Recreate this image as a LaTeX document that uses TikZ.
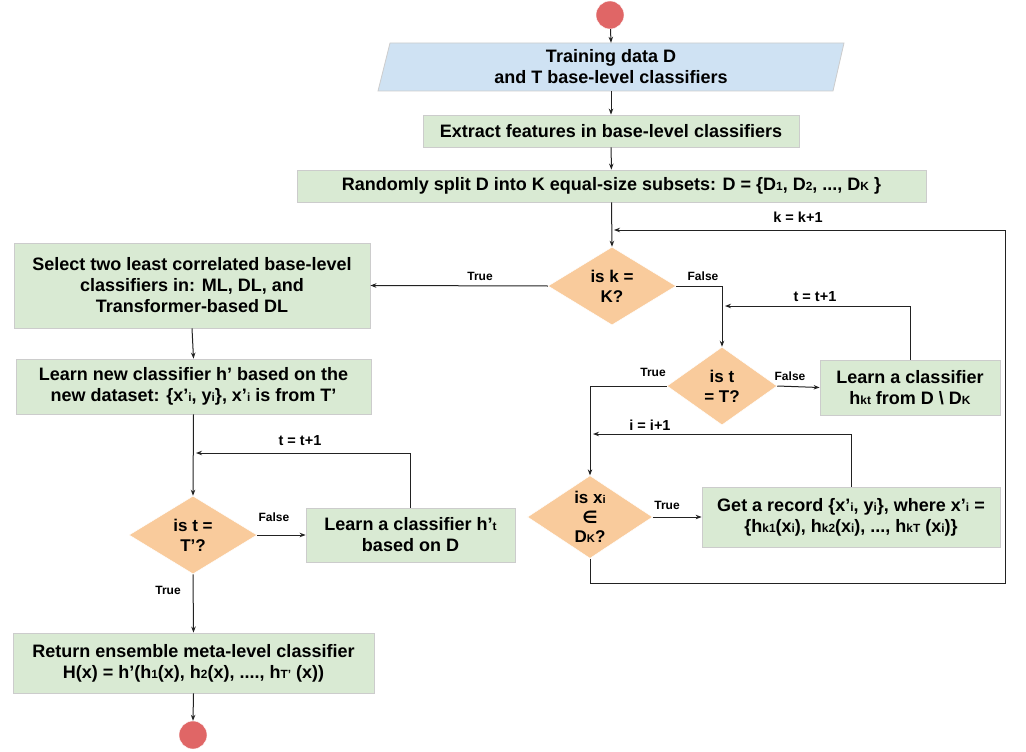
\documentclass[tikz,border=0pt]{standalone}
\usepackage{fontspec}
\setmainfont{Liberation Sans}
\newfontfamily\dv{DejaVu Sans}
\usepackage{graphicx}
\usetikzlibrary{shapes.geometric,arrows.meta}
\definecolor{gfill}{HTML}{D9EAD3}
\definecolor{bfill}{HTML}{CFE2F3}
\definecolor{ofill}{HTML}{F9CB9C}
\definecolor{rfill}{HTML}{E06666}
\definecolor{edgec}{HTML}{CCCCCC}
\definecolor{lnc}{HTML}{222222}
\newcommand\sbs[1]{\scalebox{0.66}{#1}}
\begin{document}
\begin{tikzpicture}[x=1pt,y=-1pt,
  box/.style={rectangle, draw=edgec, fill=gfill, line width=0.8pt, align=center,
    font=\fontsize{18}{21}\selectfont\bfseries, inner sep=0pt},
  dec/.style={diamond, fill=ofill, draw=white, line width=0.5pt, align=center,
    font=\fontsize{17}{20}\selectfont\bfseries, inner sep=0pt},
  term/.style={circle, fill=rfill, draw=white, minimum size=28pt, inner sep=0pt},
  lab/.style={font=\fontsize{12}{14}\selectfont\bfseries, inner sep=0pt},
  looplab/.style={font=\fontsize{14.5}{16}\selectfont\bfseries, inner sep=0pt},
  arr/.style={draw=lnc, line width=1pt, -{Stealth[length=6pt,width=4.5pt]}},
  ln/.style={draw=lnc, line width=1pt}]
\useasboundingbox (0,0) rectangle (1026,752);
% start
\node[term] (start) at (610,15) {};
% parallelogram
\fill[bfill] (390,43) -- (844,43) -- (833,91) -- (378,91) -- cycle;
\draw[edgec, line width=0.8pt] (390,43) -- (844,43) -- (833,91) -- (378,91) -- cycle;
\node[align=center, font=\fontsize{18}{21}\selectfont\bfseries, minimum width=455pt, minimum height=48pt, inner sep=0pt] (data) at (611,67) {Training data D\\and T base-level classifiers};
\node[box, minimum width=376pt, minimum height=32pt] (extract) at (611,131) {Extract features in base-level classifiers};
\node[box, minimum width=629pt, minimum height=32pt] (split) at (611.5,186) {Randomly split D into K equal-size subsets: D = \{D\sbs{1}, D\sbs{2}, ..., D\sbs{K} \}};
\node[dec, minimum width=128pt, minimum height=78pt] (dk) at (612,286) {is k =\\K?};
\node[box, minimum width=356pt, minimum height=85pt] (select) at (192,285.5) {Select two least correlated base-level\\classifiers in: ML, DL, and\\Transformer-based DL};
\node[box, minimum width=355pt, minimum height=55pt] (learnnew) at (193.5,386.5) {Learn new classifier h’ based on the\\new dataset: \{x’\sbs{i}, y\sbs{i}\}, x’\sbs{i} is from T’};
\node[dec, minimum width=110pt, minimum height=78pt] (dt) at (722,386) {is t\\= T?};
\node[box, minimum width=180pt, minimum height=55pt] (hkt) at (910,387.5) {Learn a classifier\\h\sbs{kt} from D \textbackslash{} D\sbs{K}};
\node[dec, minimum width=125pt, minimum height=80pt, font=\fontsize{17}{19.5}\selectfont\bfseries] (di) at (590,517) {is x\sbs{i}\\{\dv\bfseries ∈}\\D\sbs{K}?};
\node[box, minimum width=298pt, minimum height=60pt] (rec) at (851,517) {Get a record \{x’\sbs{i}, y\sbs{i}\}, where x’\sbs{i} =\\\{h\sbs{k1}(x\sbs{i}), h\sbs{k2}(x\sbs{i}), ..., h\sbs{kT} (x\sbs{i})\}};
\node[dec, minimum width=128pt, minimum height=78pt] (dtp) at (193,535) {is t =\\T'?};
\node[box, minimum width=209pt, minimum height=54pt] (hpt) at (410.5,535) {Learn a classifier h’\sbs{t}\\based on D};
\node[box, minimum width=361pt, minimum height=60pt] (ret) at (193.5,663) {Return ensemble meta-level classifier\\H(x) = h’(h\sbs{1}(x), h\sbs{2}(x), ...., h\sbs{T’} (x))};
\node[term] (endc) at (193,735) {};
% loop coordinates
\coordinate (kin) at (614,230);
\coordinate (corner) at (1005,583);
\coordinate (tin) at (725,306);
\coordinate (iin) at (593,434);
\coordinate (tpin) at (196,453);
% connectors
\draw[arr] (start) -- (data.north);
\draw[arr] (data.south) -- (extract.north);
\draw[arr] (extract) -- (split);
\draw[arr] (split.south) -- (dk.north);
\draw[arr] (dk.west) -- (select.east);
\draw[arr] (dk.east) -| (dt.north);
\draw[arr] (dt.east) -- (hkt.west);
\draw[arr] (hkt.north) |- (tin);
\draw[arr] (dt.west) -| (di.north);
\draw[arr] (di.east) -- (rec.west);
\draw[arr] (rec.north) |- (iin);
\draw[arr] (di.south) |- (corner) |- (kin);
\draw[arr] (select.south) -- (learnnew.north);
\draw[arr] (learnnew.south) -- (dtp.north);
\draw[arr] (dtp.east) -- (hpt.west);
\draw[arr] (hpt.north) |- (tpin);
\draw[arr] (dtp.south) -- (ret.north);
\draw[arr] (ret.south) -- (endc.north);
% labels
\node[lab] (l1) at (480,276) {True};
\node[lab] (l2) at (703,276) {False};
\node[looplab] (l3) at (798,217) {k = k+1};
\node[looplab] (l4) at (815,297) {t = t+1};
\node[lab] (l5) at (653,372) {True};
\node[lab] (l6) at (790,376) {False};
\node[looplab] (l7) at (650,425) {i = i+1};
\node[lab] (l8) at (667,505) {True};
\node[looplab] (l9) at (300,441) {t = t+1};
\node[lab] (l10) at (274,517) {False};
\node[lab] (l11) at (168,590) {True};
\end{tikzpicture}
\end{document}
